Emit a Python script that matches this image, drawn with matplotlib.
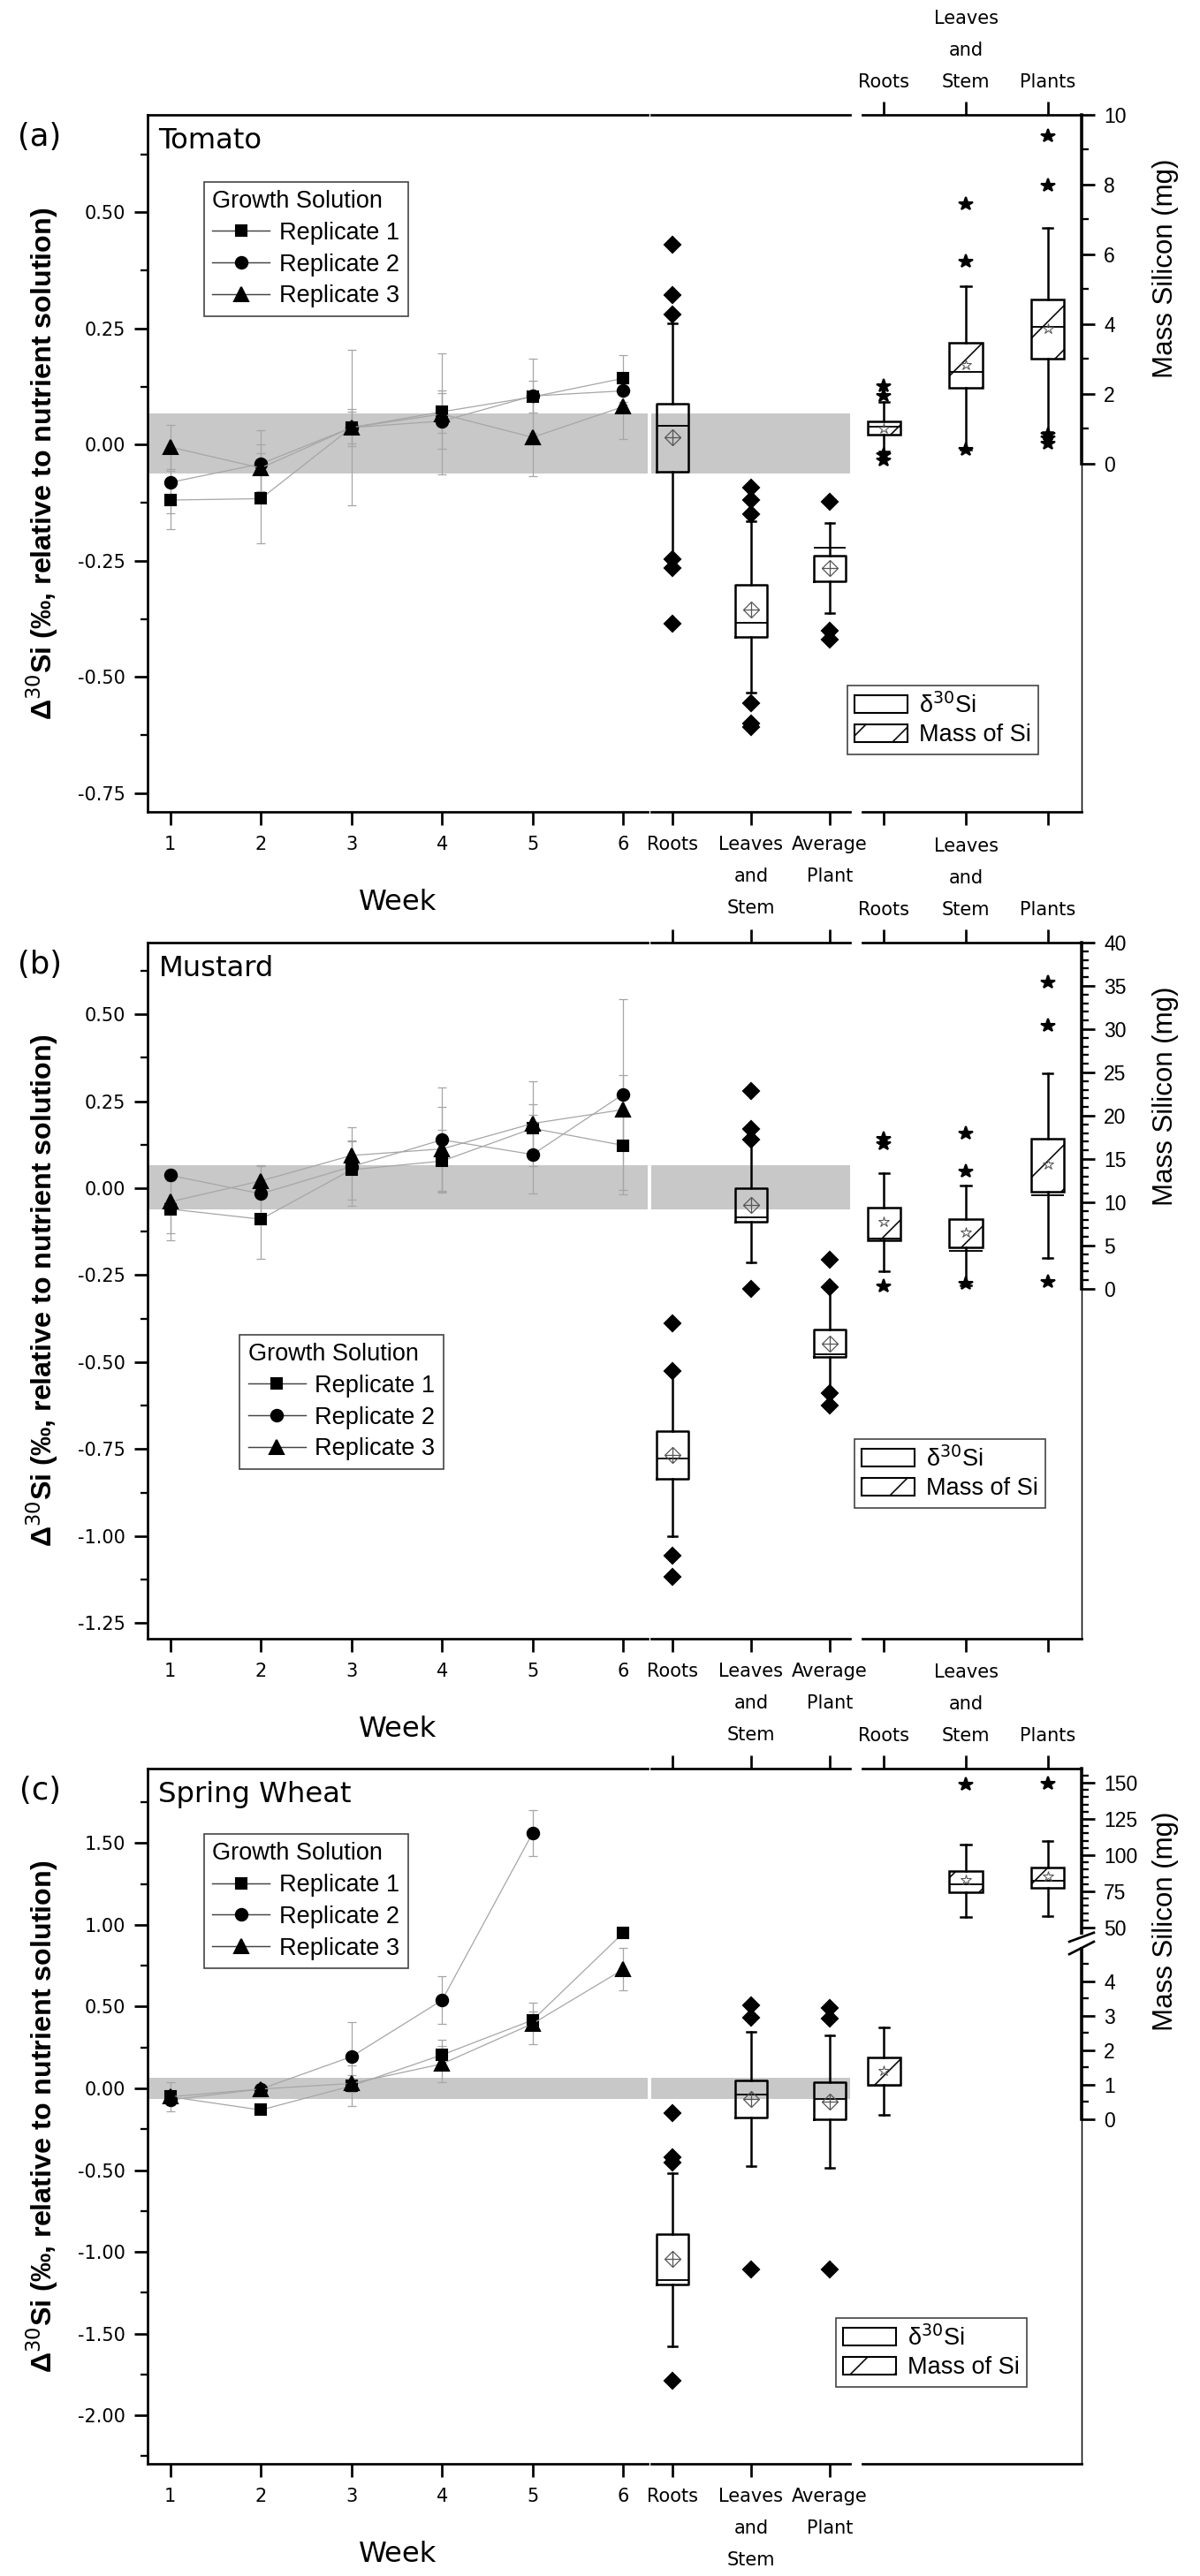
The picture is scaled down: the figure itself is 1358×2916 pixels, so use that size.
import numpy as np
import matplotlib
matplotlib.use("Agg")
import matplotlib.pyplot as plt
from matplotlib.lines import Line2D
from matplotlib.patches import Patch, Rectangle
from matplotlib.ticker import MultipleLocator, FixedLocator, FormatStrFormatter

plt.rcParams["font.family"] = ["DejaVu Sans"]
plt.rcParams["axes.unicode_minus"] = False
plt.rcParams["hatch.linewidth"] = 0.75

W, H, DPI = 1358, 2916, 150

weeks = [1, 2, 3, 4, 5, 6]
replicates = ["Replicate 1", "Replicate 2", "Replicate 3"]
rep_markers = ["s", "o", "^"]
rep_sizes = [6, 6.4, 8]
tissues = ["Roots", "Leaves\nand\nStem", "Average\nPlant"]
mass_parts = ["Roots", "Leaves\nand\nStem", "Plants"]
band = [-0.062, 0.067]

# box rows: whislo, q1, med, q3, whishi, mean
# --- (a) tomato
tomato_rep1 = [-0.119, -0.116, 0.037, 0.071, 0.103, 0.143]
tomato_rep1_err = [0.063, 0.097, 0.040, 0.045, 0.034, 0.050]
tomato_rep2 = [-0.081, -0.041, 0.037, 0.051, 0.105, 0.116]
tomato_rep2_err = [0.066, 0.072, 0.168, 0.060, 0.080, 0.030]
tomato_rep3 = [-0.005, -0.050, 0.037, 0.066, 0.016, 0.082]
tomato_rep3_err = [0.048, 0.050, 0.035, 0.130, 0.083, 0.070]
tomato_d30 = [(-0.240, -0.058, 0.040, 0.089, 0.261, 0.016),
              (-0.533, -0.413, -0.384, -0.301, -0.165, -0.355),
              (-0.363, -0.294, -0.222, -0.238, -0.169, -0.266)]
tomato_d30_out = [[0.431, 0.323, 0.281, -0.246, -0.265, -0.386],
                  [-0.093, -0.119, -0.150, -0.557, -0.599, -0.608],
                  [-0.122, -0.401, -0.420]]
tomato_mass = [(0.35, 0.83, 1.06, 1.21, 1.75, 1.01),
               (0.40, 2.17, 2.63, 3.47, 5.08, 2.83),
               (0.90, 3.01, 3.92, 4.69, 6.76, 3.87)]
tomato_mass_out = [[2.21, 1.94, 0.25, 0.09], [7.43, 5.78, 0.40],
                   [9.39, 7.97, 0.83, 0.71, 0.58]]

# --- (b) mustard
mustard_rep1 = [-0.060, -0.089, 0.053, 0.078, 0.172, 0.123]
mustard_rep1_err = [0.090, 0.113, 0.085, 0.090, 0.070, 0.140]
mustard_rep2 = [0.037, -0.016, 0.062, 0.139, 0.097, 0.270]
mustard_rep2_err = [0.016, 0.080, 0.113, 0.150, 0.113, 0.274]
mustard_rep3 = [-0.039, 0.021, 0.094, 0.113, 0.186, 0.226]
mustard_rep3_err = [0.090, 0.044, 0.040, 0.120, 0.122, 0.100]
mustard_d30 = [(-1.000, -0.835, -0.778, -0.697, -0.522, -0.768),
               (-0.214, -0.096, -0.085, 0.001, 0.139, -0.047),
               (-0.595, -0.486, -0.478, -0.405, -0.287, -0.446)]
mustard_d30_out = [[-0.388, -0.525, -1.057, -1.117],
                   [0.280, 0.171, 0.139, -0.290],
                   [-0.206, -0.284, -0.590, -0.624]]
mustard_mass = [(2.08, 5.66, 5.85, 9.37, 13.33, 7.80),
                (0.46, 4.81, 4.36, 8.07, 11.97, 6.50),
                (3.58, 11.19, 10.86, 17.37, 24.85, 14.37)]
mustard_mass_out = [[17.37, 16.72, 0.26], [18.0, 13.6, 0.59], [35.38, 30.37, 0.78]]

# --- (c) spring wheat
wheat_rep1 = [-0.051, -0.132, 0.015, 0.205, 0.418, 0.951]
wheat_rep1_err = [0.090, 0.0, 0.125, 0.090, 0.050, 0.0]
wheat_rep2 = [-0.070, -0.004, 0.194, 0.539, 1.562, np.nan]
wheat_rep2_err = [0.030, 0.020, 0.210, 0.145, 0.140, np.nan]
wheat_rep3 = [-0.051, -0.004, 0.030, 0.150, 0.396, 0.728]
wheat_rep3_err = [0.030, 0.020, 0.050, 0.110, 0.128, 0.130]
wheat_d30 = [(-1.575, -1.201, -1.171, -0.889, -0.518, -1.043),
             (-0.474, -0.180, -0.040, 0.051, 0.345, -0.062),
             (-0.485, -0.187, -0.062, 0.040, 0.327, -0.081)]
wheat_d30_out = [[-0.151, -0.419, -0.455, -1.788], [0.507, 0.433, -1.105],
                 [0.492, 0.426, -1.105]]
wheat_mass = [(0.14, 1.01, 0.97, 1.79, 2.66, 1.41),
              (57.0, 74.4, 79.8, 89.3, 107.6, 82.7),
              (57.9, 77.3, 82.6, 91.7, 109.5, 85.5)]
wheat_mass_out = [[], [148.8], [149.6]]

# broken mass axis for wheat: 0-4.6 linear, squeezed gap, 48+ compressed
brk_x = [-1000, 4.6, 48, 1000]
brk_f = [-1000, 4.6, 5.466, 5.55 + 950 * 0.0419]


def fwd(y):
    return np.interp(y, brk_x, brk_f)


def inv(f):
    return np.interp(f, brk_f, brk_x)


LEFT, MID, RIGHT = (167, 733), (737, 962), (976, 1224)
ROWS = [(130, 919), (1067, 1855), (2002, 2789)]

fig = plt.figure(figsize=(W / DPI, H / DPI), dpi=DPI)


def place(xs, ys):
    return [xs[0] / W, 1 - ys[1] / H, (xs[1] - xs[0]) / W, (ys[1] - ys[0]) / H]


def box_stats(rows, outliers):
    keys = ["whislo", "q1", "med", "q3", "whishi", "mean"]
    return [dict(zip(keys, r), fliers=np.array(o)) for r, o in zip(rows, outliers)]


LABEL_FONT = ["Liberation Sans Narrow", "Liberation Sans", "DejaVu Sans"]
LEG_FONT = dict(family="Liberation Sans", size=13)


def draw_panel(i, letter, species, reps, errs, d30, d30_out, mass, mass_out,
               ylim, ystep, mass_ylim, mass_major, mass_minor, leg_xy, boxleg_px,
               broken=False):
    ys = ROWS[i]
    ax_w = fig.add_axes(place(LEFT, ys))
    ax_m = fig.add_axes(place(MID, ys), sharey=ax_w)
    ax_r = fig.add_axes(place(RIGHT, ys))
    for ax in (ax_w, ax_m, ax_r):
        for s in ax.spines.values():
            s.set_linewidth(1.3)
        ax.tick_params(width=1.3, length=7, labelsize=10, direction="out")
        ax.tick_params(which="minor", width=1.1, length=3.8)
    ax_w.spines["right"].set_visible(False)
    ax_m.spines["left"].set_visible(False)
    ax_m.spines["right"].set_visible(False)
    ax_r.spines["left"].set_visible(False)

    # weekly growth solution
    ax_w.axhspan(*band, color="#c8c8c8", lw=0, zorder=0)
    for vals, err, mk, msz in zip(reps, errs, rep_markers, rep_sizes):
        ax_w.errorbar(weeks, vals, yerr=err, color="#a6a6a6", lw=0.6,
                      elinewidth=0.6, capsize=2.6, capthick=0.6, marker=mk,
                      ms=msz, mfc="black", mec="black", zorder=3)
    ax_w.set_xlim(0.75, 6.27)
    ax_w.set_ylim(*ylim)
    ax_w.set_xticks(weeks)
    ax_w.yaxis.set_major_locator(MultipleLocator(ystep))
    ax_w.yaxis.set_minor_locator(MultipleLocator(ystep / 2))
    ax_w.yaxis.set_major_formatter(FormatStrFormatter("%.2f"))
    ax_w.tick_params(axis="y", pad=5)
    ax_w.tick_params(axis="x", pad=6)

    handles = [Line2D([], [], color="#444444", lw=0.7, marker=mk, ms=msz,
                      mfc="black", mec="black")
               for mk, msz in zip(rep_markers, rep_sizes)]
    leg = ax_w.legend(handles, replicates, title="Growth Solution", loc="upper left",
                      bbox_to_anchor=leg_xy, borderaxespad=0, frameon=True,
                      fancybox=False, edgecolor="#444444", framealpha=1,
                      prop=LEG_FONT, title_fontproperties=LEG_FONT, alignment="left",
                      handlelength=2.4, borderpad=0.35, labelspacing=0.36,
                      handletextpad=0.4)
    leg.get_frame().set_linewidth(0.8)

    ax_w.text(0.022, 0.963, species, transform=ax_w.transAxes, fontsize=15.5,
              ha="left", va="center")
    ax_w.text(-0.2155, 0.968, "(%s)" % letter, transform=ax_w.transAxes,
              fontsize=17, ha="center", va="center")
    ax_w.text(0.5, -0.13, "Week", transform=ax_w.transAxes, fontsize=15.5,
              ha="center", va="center")
    ax_w.text(-0.21, 0.5, "Δ$^{30}$Si (‰, relative to nutrient solution)",
              transform=ax_w.transAxes, rotation=90, ha="center", va="center",
              fontsize=15.5, fontweight="bold", family=LABEL_FONT)

    # tissue delta30Si boxes
    ax_m.axhspan(*band, color="#c8c8c8", lw=0, zorder=0)
    st = box_stats(d30, d30_out)
    ax_m.bxp(st, positions=[1, 2, 3], widths=0.4, capwidths=0.12, showmeans=True,
             boxprops=dict(color="black", lw=1.2),
             whiskerprops=dict(color="black", lw=1.2),
             capprops=dict(color="black", lw=1.2),
             medianprops=dict(color="black", lw=0.9),
             meanprops=dict(marker="D", mfc="none", mec="#555555", mew=0.6, ms=6),
             flierprops=dict(marker="D", mfc="black", mec="black", ms=5.8))
    ax_m.plot([1, 2, 3], [s["mean"] for s in st], ls="none", marker="+", ms=8.5,
              mew=0.6, color="#555555", zorder=5)
    ax_m.set_xlim(0.73, 3.26)
    ax_m.set_xticks([1, 2, 3], tissues)
    ax_m.tick_params(axis="y", which="both", left=False, labelleft=False)
    ax_m.tick_params(axis="x", top=(i > 0), pad=6)

    # mass of silicon boxes
    if broken:
        ax_r.set_yscale("function", functions=(fwd, inv))
    mst = box_stats(mass, mass_out)
    ax_r.bxp(mst, positions=[1, 2, 3], widths=0.4, capwidths=0.12, showmeans=True,
             patch_artist=True,
             boxprops=dict(facecolor="none", edgecolor="black", lw=1.2, hatch="/"),
             whiskerprops=dict(color="black", lw=1.2),
             capprops=dict(color="black", lw=1.2),
             medianprops=dict(color="black", lw=0.9),
             meanprops=dict(marker="*", mfc="none", mec="#555555", mew=0.5, ms=6),
             flierprops=dict(marker="*", mfc="black", mec="black", ms=7.6))
    ax_r.set_xlim(0.74, 3.41)
    ax_r.set_ylim(*mass_ylim)
    ax_r.yaxis.tick_right()
    ax_r.yaxis.set_major_locator(FixedLocator(mass_major))
    ax_r.yaxis.set_minor_locator(FixedLocator(mass_minor))
    ax_r.yaxis.set_major_formatter(FormatStrFormatter("%g"))
    ax_r.tick_params(axis="y", labelsize=11, labelfontfamily="Liberation Sans", pad=5)
    ax_r.spines["right"].set_bounds(0, mass_ylim[1])
    ax_r.spines["right"].set_linewidth(1.7)
    ax_r.plot([1, 1], [0, 1], transform=ax_r.transAxes, color="black", lw=0.7,
              clip_on=False, zorder=1)
    ax_r.set_xticks([1, 2, 3], mass_parts)
    ax_r.tick_params(axis="x", top=True, labeltop=True, labelbottom=False,
                     bottom=not broken, pad=6)
    ax_r.text(1.383, 0.78, "Mass Silicon (mg)", transform=ax_r.transAxes,
              rotation=90, ha="center", va="center", fontsize=15, family=LABEL_FONT)
    if broken:
        ax_r.add_patch(Rectangle((0.96, 0.7446), 0.08, 0.0154, transform=ax_r.transAxes,
                                 color="white", clip_on=False, zorder=6))
        for y0, y1 in ((0.751, 0.764), (0.733, 0.751)):
            ax_r.plot([0.944, 1.056], [y0, y1], transform=ax_r.transAxes,
                      color="black", lw=1.3, clip_on=False, zorder=7)

    for ax in (ax_m, ax_r):
        for lbl in ax.get_xticklabels():
            lbl.set_linespacing(2.0)

    bl = fig.legend([Patch(fc="white", ec="black", lw=1.0),
                     Patch(fc="white", ec="black", lw=1.0, hatch="/")],
                    ["δ$^{30}$Si", "Mass of Si"], loc="upper left",
                    bbox_to_anchor=(boxleg_px[0] / W, 1 - boxleg_px[1] / H),
                    borderaxespad=0, frameon=True, fancybox=False,
                    edgecolor="#444444", framealpha=1, prop=LEG_FONT,
                    handlelength=2.2, handleheight=0.75, borderpad=0.3,
                    labelspacing=0.25, handletextpad=0.5)
    bl.get_frame().set_linewidth(0.8)


draw_panel(0, "a", "Tomato",
           [tomato_rep1, tomato_rep2, tomato_rep3],
           [tomato_rep1_err, tomato_rep2_err, tomato_rep3_err],
           tomato_d30, tomato_d30_out, tomato_mass, tomato_mass_out,
           (-0.79, 0.71), 0.25, (-10, 10),
           list(range(0, 11, 2)), list(range(0, 11)),
           (0.113, 0.904), (959, 776))

draw_panel(1, "b", "Mustard",
           [mustard_rep1, mustard_rep2, mustard_rep3],
           [mustard_rep1_err, mustard_rep2_err, mustard_rep3_err],
           mustard_d30, mustard_d30_out, mustard_mass, mustard_mass_out,
           (-1.295, 0.706), 0.25, (-40.4, 40),
           list(range(0, 41, 5)), list(range(0, 41)),
           (0.184, 0.437), (967, 1629))

draw_panel(2, "c", "Spring Wheat",
           [wheat_rep1, wheat_rep2, wheat_rep3],
           [wheat_rep1_err, wheat_rep2_err, wheat_rep3_err],
           wheat_d30, wheat_d30_out, wheat_mass, wheat_mass_out,
           (-2.296, 1.956), 0.5, (-9.97, 159.8),
           [0, 1, 2, 3, 4, 50, 75, 100, 125, 150],
           [0.5, 1.5, 2.5, 3.5, 4.5] + list(range(55, 160, 5)),
           (0.113, 0.906), (946, 2624), broken=True)

fig.savefig("out.png", dpi=DPI, facecolor="white")
